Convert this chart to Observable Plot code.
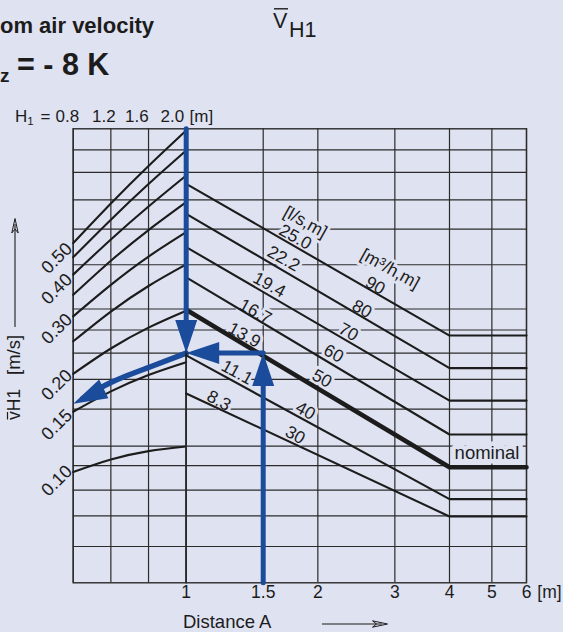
<!DOCTYPE html>
<html>
<head>
<meta charset="utf-8">
<script src="https://cdn.jsdelivr.net/npm/d3@7"></script>
<script src="https://cdn.jsdelivr.net/npm/@observablehq/plot@0.6"></script>
<style>
  html, body { margin: 0; padding: 0; background: #dfe2f1; }
  #chart { position: relative; width: 563px; height: 632px; overflow: hidden; background: #dfe2f1; }
  #chart > svg { position: absolute; left: 0; top: 0; margin: 0; max-width: none; }
</style>
</head>
<body>
<div id="chart"></div>
<script>
// ---------------- data ----------------
// Right panel: distance A [m] (log) vs mean room air velocity v̄H1 [m/s] (log)
const distanceTicks = [1, 1.5, 2, 3, 4, 5, 6];
const velocityGrid = [1.03, 0.875, 0.718, 0.581, 0.449, 0.326, 0.28, 0.237, 0.196, 0.158, 0.121, 0.105, 0.088, 0.073, 0.0585];
const velocityLabels = [0.5, 0.4, 0.3, 0.2, 0.15, 0.1];
const lineDistances = [1, 4, 6];
const flowLs = ["25.0", "22.2", "19.4", "16.7", "13.9", "11.1", "8.3"];
const flowM3h = ["90", "80", "70", "60", "50", "40", "30"];
const nominalFlow = "13.9";
const v25_0 = [0.806, 0.269, 0.269];
const v22_2 = [0.649, 0.2125, 0.2125];
const v19_4 = [0.510, 0.168, 0.168];
const v16_7 = [0.410, 0.1315, 0.1315];
const v13_9 = [0.324, 0.1038, 0.1038];
const v11_1 = [0.233, 0.0824, 0.0824];
const v8_3 = [0.177, 0.0727, 0.0727];

// label anchors along the lines
const lsLabelText = ["[l/s,m]", ...flowLs];
const lsLabelDist = [1.873, 1.776, 1.670, 1.549, 1.439, 1.359, 1.307, 1.187];
const lsLabelVel = [0.611, 0.548, 0.469, 0.388, 0.320, 0.270, 0.206, 0.168];
const m3hLabelText = ["[m³/h,m]", ...flowM3h];
const m3hLabelDist = [2.926, 2.705, 2.522, 2.350, 2.173, 2.044, 1.873, 1.776];
const m3hLabelVel = [0.436, 0.386, 0.326, 0.276, 0.236, 0.197, 0.156, 0.131];
const nominalLabel = {text: "nominal", distance: 4.873, velocity: 0.115};

// Left panel: room height H1 [m] (linear) – conversion curves
const heightTicks = [0.8, 1.2, 1.6, 2.0];
const h1Curve1 = [0.525, 0.699, 0.917, 1.185];
const h1Curve2 = [0.474, 0.622, 0.805, 1.026];
const h1Curve3 = [0.418, 0.539, 0.684, 0.856];
const h1Curve4 = [0.361, 0.462, 0.577, 0.706];
const h1Curve5 = [0.309, 0.388, 0.476, 0.568];
const h1Curve6 = [0.258, 0.320, 0.385, 0.450];
const h1Curve7 = [0.204, 0.245, 0.285, 0.322];
const h1Curve8 = [0.155, 0.1796, 0.2024, 0.222];
const h1Curve9 = [0.1002, 0.1097, 0.1166, 0.1206];

// Example reading (blue arrows)
const exampleDistance = 1.5;
const exampleVelocity = 0.237;
const downShaftVel = [1.2, 0.29];
const upShaftVel = [0.045, 0.20];
const leftShaftDist = [1.5, 1.12];
const curvedArrowH = [2.0, 1.6, 1.2, 0.9];
const curvedArrowV = [0.2368, 0.2135, 0.1916, 0.1706];
const curvedArrowTip = {h: 0.8, v: 0.1643};

// ---------------- layout & style ----------------
const W = 563, H = 632;
const frameLeft = 72.7, frameSplit = 185.7, frameRight = 526, frameTop = 128.3, frameBottom = 582.3;
const BG = "#dfe2f1", INK = "#1c1c1c", GRID = "#2b2b2b", BLUE = "#1b4b9b";
const FONT = '"Liberation Sans", Arial, Helvetica, sans-serif';
const yScale = {type: "log", domain: [0.045, 1.2], axis: null};

// ---------------- derived tables ----------------
const rightSeries = [v25_0, v22_2, v19_4, v16_7, v13_9, v11_1, v8_3];
const flowRows = flowLs.flatMap((f, i) => lineDistances.map((d, j) => ({flow: f, distance: d, velocity: rightSeries[i][j]})));
const lsRows = lsLabelText.map((t, i) => ({text: t, distance: lsLabelDist[i], velocity: lsLabelVel[i]}));
const m3hRows = m3hLabelText.map((t, i) => ({text: t, distance: m3hLabelDist[i], velocity: m3hLabelVel[i]}));
const leftCurves = [h1Curve1, h1Curve2, h1Curve3, h1Curve4, h1Curve5, h1Curve6, h1Curve7, h1Curve8, h1Curve9];
const leftRows = leftCurves.flatMap((c, i) => heightTicks.map((h, j) => ({id: i, h, v: c[j]})));
const curvedRows = curvedArrowH.map((h, i) => ({h, v: curvedArrowV[i]}));

const downShaft = downShaftVel.map(v => ({distance: 1, velocity: v}));
const upShaft = upShaftVel.map(v => ({distance: exampleDistance, velocity: v}));
const leftShaft = leftShaftDist.map(d => ({distance: d, velocity: exampleVelocity}));
const rightHeads = [
  {distance: 1, velocity: exampleVelocity, angle: 180},
  {distance: exampleDistance, velocity: exampleVelocity, angle: 0},
  {distance: 1, velocity: exampleVelocity, angle: 270}
];

const halo = {stroke: BG, strokeWidth: 6, strokeLinejoin: "round", fill: INK};

// ---------------- decorative text layer ----------------
const deco = d3.create("svg").attr("width", W).attr("height", H)
  .attr("font-family", FONT).attr("fill", INK);
function t(x, y, s, size, weight = "normal", anchor = "start") {
  return deco.append("text").attr("x", x).attr("y", y).attr("font-size", size)
    .attr("font-weight", weight).attr("text-anchor", anchor).text(s);
}
t(0, 33.3, "om air velocity", 22, "bold");
t(0, 81.7, "z", 19, "bold");
t(17, 75, "= - 8 K", 30.5, "bold");
t(273, 28.3, "V", 21.5);
deco.append("line").attr("x1", 274).attr("x2", 288).attr("y1", 8.8).attr("y2", 8.8).attr("stroke", INK).attr("stroke-width", 1.4);
t(289, 36.7, "H1", 21.5);
// H1 header
t(15, 121.7, "H", 17);
t(27.3, 124.5, "1", 11.5);
t(40.5, 121.7, "=", 17);
t(55.5, 121.7, "0.8", 17);
t(92, 121.7, "1.2", 17);
t(125, 121.7, "1.6", 17);
t(160.5, 121.7, "2.0", 17);
t(189.5, 121.7, "[m]", 17);
// y axis title (rotated)
deco.append("text").attr("transform", "translate(20,420) rotate(-90)").attr("font-size", 17.5)
  .call(s => { s.append("tspan").text("v"); s.append("tspan").text("H1"); });
deco.append("line").attr("x1", 7.5).attr("x2", 7.5).attr("y1", 412).attr("y2", 419.5).attr("stroke", INK).attr("stroke-width", 1.2);
deco.append("text").attr("transform", "translate(20,375) rotate(-90)").attr("font-size", 18.5).text("[m/s]");
deco.append("line").attr("x1", 15).attr("x2", 15).attr("y1", 327).attr("y2", 224).attr("stroke", INK).attr("stroke-width", 1.1);
deco.append("path").attr("d", "M15,218.5 L11.8,233 L15,229 L18.2,233 Z").attr("fill", "none").attr("stroke", INK).attr("stroke-width", 1);
// x axis title
t(183, 628, "Distance A", 18.5);
deco.append("line").attr("x1", 322).attr("x2", 382).attr("y1", 624).attr("y2", 624).attr("stroke", INK).attr("stroke-width", 1.1);
deco.append("path").attr("d", "M387.5,624 L372.5,620.8 L376.5,624 L372.5,627.2 Z").attr("fill", "none").attr("stroke", INK).attr("stroke-width", 1);

// ---------------- left panel (H1) ----------------
const left = Plot.plot({
  width: W, height: H,
  marginLeft: frameLeft, marginRight: W - frameSplit, marginTop: frameTop, marginBottom: H - frameBottom,
  x: {type: "linear", domain: [0.8, 2.0], axis: null},
  y: yScale,
  style: {background: "transparent", fontFamily: FONT, overflow: "visible"},
  marks: [
    Plot.ruleX(heightTicks, {stroke: GRID, strokeWidth: 1.2}),
    Plot.ruleY(velocityGrid, {stroke: GRID, strokeWidth: 1.2}),
    Plot.frame({stroke: GRID, strokeWidth: 1.4}),
    Plot.line(leftRows, {x: "h", y: "v", z: "id", curve: "natural", stroke: INK, strokeWidth: 2.1}),
    Plot.text(velocityLabels, {y: d => d, text: d => d.toFixed(2), frameAnchor: "left", textAnchor: "end",
      rotate: -45, dx: -4, dy: -4, fontSize: 18, fill: INK}),
    Plot.line(curvedRows, {x: "h", y: "v", curve: "natural", stroke: BLUE, strokeWidth: 5.5}),
    Plot.vector([curvedArrowTip], {x: "h", y: "v", rotate: 244, length: 34, anchor: "end", shape: "spike", r: 10.5, fill: BLUE, stroke: "none"})
  ]
});

// ---------------- right panel (distance) ----------------
const right = Plot.plot({
  width: W, height: H,
  marginLeft: frameSplit, marginRight: W - frameRight, marginTop: frameTop, marginBottom: H - frameBottom,
  x: {type: "log", domain: [1, 6], axis: null},
  y: yScale,
  style: {background: "transparent", fontFamily: FONT, overflow: "visible"},
  marks: [
    Plot.ruleX(distanceTicks, {stroke: GRID, strokeWidth: 1.2}),
    Plot.ruleY(velocityGrid, {stroke: GRID, strokeWidth: 1.2}),
    Plot.frame({stroke: GRID, strokeWidth: 1.4}),
    Plot.text(lsRows, {x: "distance", y: "velocity", text: "text", rotate: 29, fontSize: 17.5, ...halo}),
    Plot.text(m3hRows, {x: "distance", y: "velocity", text: "text", rotate: 29, fontSize: 17.5, ...halo}),
    Plot.text([nominalLabel], {x: "distance", y: "velocity", text: "text", fontSize: 18.5, ...halo, strokeWidth: 9}),
    Plot.line(flowRows.filter(r => r.flow !== nominalFlow), {x: "distance", y: "velocity", z: "flow", stroke: INK, strokeWidth: 2.1}),
    Plot.line(flowRows.filter(r => r.flow === nominalFlow), {x: "distance", y: "velocity", stroke: INK, strokeWidth: 4.6}),
    Plot.text(distanceTicks, {x: d => d, text: d => String(d), frameAnchor: "bottom", dy: 15, fontSize: 17.5, fill: INK}),
    Plot.text([6], {x: d => d, text: () => "[m]", frameAnchor: "bottom", dx: 23, dy: 15, fontSize: 17.5, fill: INK}),
    Plot.line(downShaft, {x: "distance", y: "velocity", stroke: BLUE, strokeWidth: 5}),
    Plot.line(upShaft, {x: "distance", y: "velocity", stroke: BLUE, strokeWidth: 5}),
    Plot.line(leftShaft, {x: "distance", y: "velocity", stroke: BLUE, strokeWidth: 5}),
    Plot.vector(rightHeads, {x: "distance", y: "velocity", rotate: "angle", length: 33, anchor: "end", shape: "spike", r: 11, fill: BLUE, stroke: "none"})
  ]
});

const chart = document.getElementById("chart");
chart.append(deco.node(), left, right);
</script>
</body>
</html>
